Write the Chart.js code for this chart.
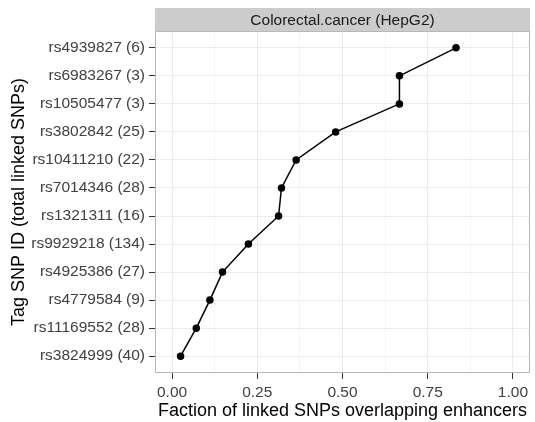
<!DOCTYPE html>
<html>
<head>
<meta charset="utf-8">
<script src="https://cdn.jsdelivr.net/npm/chart.js@4"></script>
<style>
  html, body { margin: 0; padding: 0; background: #fff; }
  #wrap { width: 535px; height: 422px; }
</style>
</head>
<body>
<div id="wrap"><canvas id="chart" width="535" height="422"></canvas></div>
<script>
// Tag SNPs, top to bottom, with the number of linked SNPs
const snpLabels = [
    'rs4939827 (6)', 'rs6983267 (3)', 'rs10505477 (3)', 'rs3802842 (25)',
    'rs10411210 (22)', 'rs7014346 (28)', 'rs1321311 (16)', 'rs9929218 (134)',
    'rs4925386 (27)', 'rs4779584 (9)', 'rs11169552 (28)', 'rs3824999 (40)'
];
// fraction of linked SNPs overlapping enhancers
const overlapFraction = [0.833, 0.667, 0.667, 0.48, 0.364, 0.321, 0.3125, 0.224, 0.148, 0.111, 0.071, 0.025];
const xTicks = [0, 0.125, 0.25, 0.375, 0.5, 0.625, 0.75, 0.875, 1];
const panelTitle = 'Colorectal.cancer (HepG2)';

const FONT = '"Liberation Sans", Arial, Helvetica, sans-serif';
const isMajor = v => Math.abs(v * 4 - Math.round(v * 4)) < 1e-6;

// grey facet strip on top plus the full panel border
const panelFrame = {
    id: 'panelFrame',
    afterDraw(chart) {
        const { ctx, chartArea: a } = chart;
        ctx.save();
        ctx.fillStyle = '#cccccc';
        ctx.fillRect(a.left, 8, a.right - a.left, a.top - 8);
        ctx.fillStyle = '#1a1a1a';
        ctx.font = '15.5px ' + FONT;
        ctx.textAlign = 'center';
        ctx.textBaseline = 'middle';
        ctx.fillText(panelTitle, (a.left + a.right) / 2, (8 + a.top) / 2 + 1);
        ctx.strokeStyle = '#b8b8b8';
        ctx.lineWidth = 1;
        ctx.strokeRect(a.left + 0.5, a.top + 0.5, a.right - a.left - 1, a.bottom - a.top - 1);
        ctx.restore();
    }
};

new Chart(document.getElementById('chart'), {
    type: 'scatter',
    data: {
        datasets: [{
            data: overlapFraction.map((v, i) => ({ x: v, y: i })),
            showLine: true,
            borderColor: '#000',
            backgroundColor: '#000',
            borderWidth: 1.5,
            pointRadius: 3,
            pointHoverRadius: 3
        }]
    },
    options: {
        responsive: false,
        animation: false,
        layout: { padding: { left: 0, right: 5, top: 31, bottom: 0 } },
        plugins: { legend: { display: false }, tooltip: { enabled: false } },
        scales: {
            x: {
                type: 'linear',
                min: -0.05,
                max: 1.05,
                afterBuildTicks: s => { s.ticks = xTicks.map(v => ({ value: v })); },
                afterFit: s => { s.height = 49; },
                border: { display: false },
                grid: {
                    color: c => isMajor(c.tick.value) ? '#ebebeb' : '#f5f5f5',
                    lineWidth: 1,
                    tickColor: c => isMajor(c.tick.value) ? '#333' : 'rgba(0,0,0,0)',
                    tickLength: 6
                },
                ticks: {
                    color: '#404040',
                    font: { family: FONT, size: 15.5 },
                    padding: 4,
                    maxRotation: 0,
                    autoSkip: false,
                    callback: v => isMajor(v) ? v.toFixed(2) : ''
                },
                title: {
                    display: true,
                    text: 'Faction of linked SNPs overlapping enhancers',
                    color: '#000',
                    font: { family: FONT, size: 18 },
                    padding: { top: 0, bottom: 0 }
                }
            },
            y: {
                type: 'linear',
                reverse: true,
                min: -0.6,
                max: snpLabels.length - 0.4,
                afterBuildTicks: s => { s.ticks = snpLabels.map((_, i) => ({ value: i })); },
                afterFit: s => { s.width = 155; },
                border: { display: false },
                grid: {
                    color: '#ebebeb',
                    lineWidth: 1,
                    tickColor: '#333',
                    tickLength: 6
                },
                ticks: {
                    color: '#404040',
                    font: { family: FONT, size: 15.5 },
                    padding: 4,
                    autoSkip: false,
                    callback: v => snpLabels[v]
                },
                title: {
                    display: true,
                    text: 'Tag SNP ID (total linked SNPs)',
                    color: '#000',
                    font: { family: FONT, size: 18 },
                    padding: { top: 8, bottom: 0 }
                }
            }
        }
    },
    plugins: [panelFrame]
});
</script>
</body>
</html>
